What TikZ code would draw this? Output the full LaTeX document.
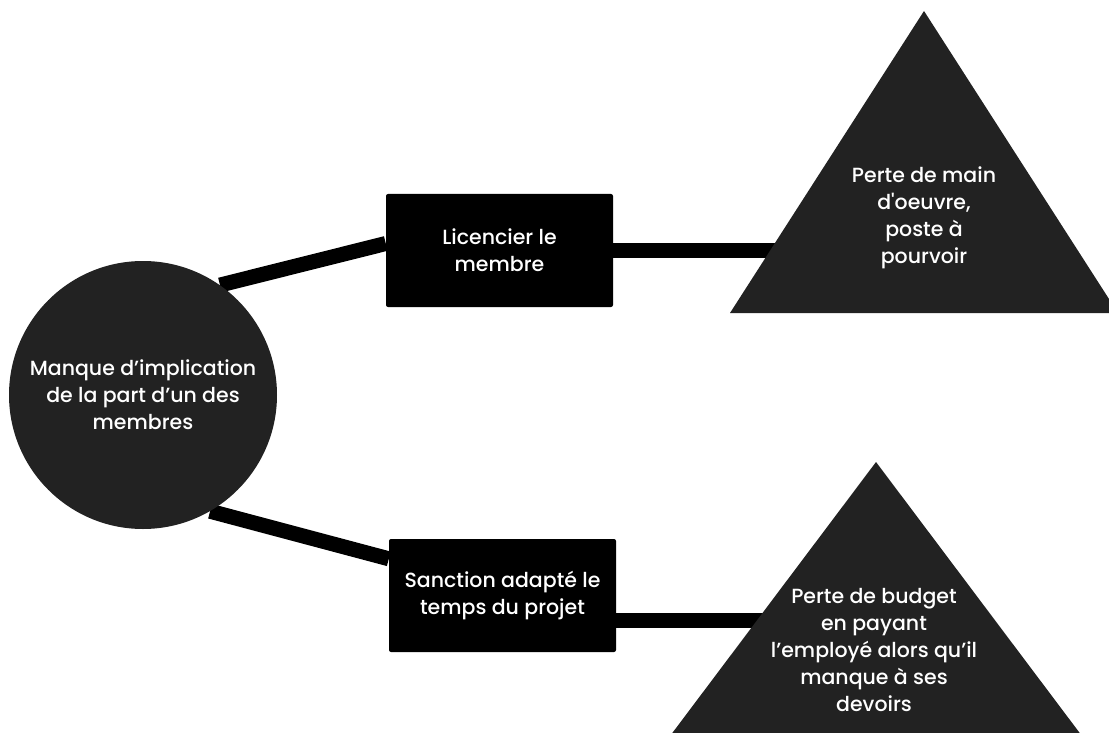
\documentclass[tikz,border=0pt]{standalone}
\usepackage{fontspec}
\setmainfont{Poppins Medium}
\usetikzlibrary{backgrounds}
\definecolor{darkfill}{HTML}{222222}

\begin{document}
\begin{tikzpicture}[x=1pt,y=-1pt,
	cause/.style={shape=circle,fill=darkfill,text=white,align=center,minimum size=268pt,inner sep=0pt},
	action/.style={shape=rectangle,fill=black,text=white,align=center,rounded corners=2pt,minimum width=227pt,minimum height=113pt},
	result/.style={text=white,align=center,inner sep=0pt},
	link/.style={draw=black,line width=15pt},
	font=\fontsize{20.5}{27}\selectfont]
	\useasboundingbox (0,0) rectangle (1109,733);
	\clip (0,0) rectangle (1109,733);

	\fill[darkfill] (730,313) -- (924,11) -- (1118,313) -- cycle;
	\fill[darkfill] (652,760) -- (876,462) -- (1100,760) -- cycle;

	\node[cause] (lack) at (143,395) {Manque d’implication\\de la part d’un des\\membres};
	\node[action] (fire) at (499.5,250.5) {Licencier le\\membre};
	\node[action] (sanction) at (502.5,595.5) {Sanction adapté le\\temps du projet};
	\node[result] (workforce) at (924,218) {Perte de main\\d\textquotesingle oeuvre,\\poste à\\pourvoir};
	\node[result] (budget) at (874,650) {Perte de budget\\en payant\\l’employé alors qu’il\\manque à ses\\devoirs};

	\coordinate (workforceIn) at (800,250.5);
	\coordinate (budgetIn) at (800,620);

	\begin{pgfonlayer}{background}
	\path[link] (lack.55) edge ([yshift=7pt]fire.west);
	\path[link] (lack.-60) edge ([yshift=-20pt]sanction.north west);
	\path[link] (fire.east) edge (workforceIn);
	\path[link] ([yshift=-24.5pt]sanction.east) edge (budgetIn);
	\end{pgfonlayer}
\end{tikzpicture}
\end{document}
